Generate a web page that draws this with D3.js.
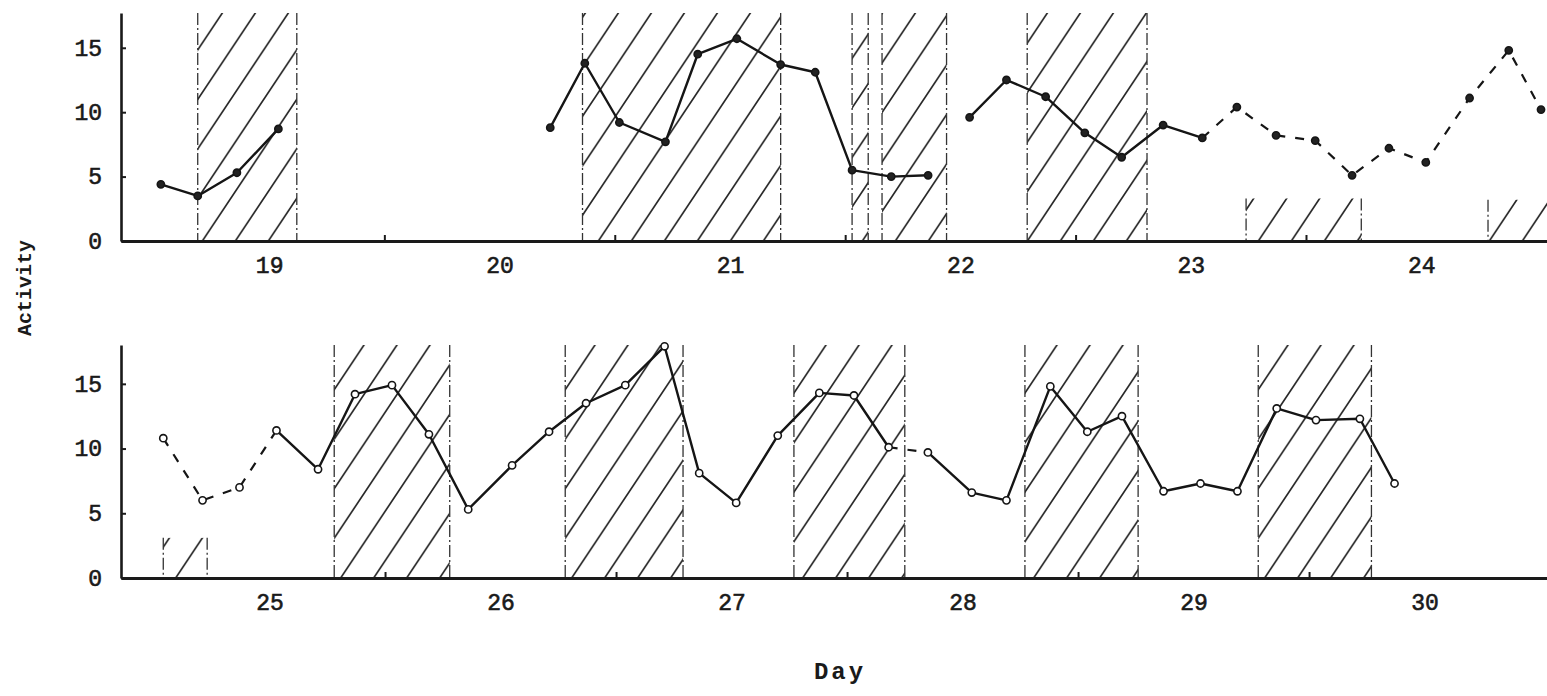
<!DOCTYPE html>
<html>
<head>
<meta charset="utf-8">
<script src="https://cdn.jsdelivr.net/npm/d3@7"></script>
<style>
  body { margin: 0; background: #fff; }
  text { font-family: "Liberation Mono", "DejaVu Sans Mono", monospace; fill: #1a1a1a; }
</style>
</head>
<body>
<svg id="chart"></svg>
<script>
// readings from the two panels (time in days, activity counts)

const topTime = [18.53, 18.69, 18.86, 19.04,
    20.22, 20.37, 20.52, 20.72, 20.86, 21.03, 21.22, 21.37, 21.53, 21.70, 21.86,
    22.04, 22.20, 22.37, 22.54, 22.70, 22.88, 23.05,
    23.20, 23.37, 23.54, 23.70, 23.86, 24.02, 24.21, 24.38, 24.52]
const topActivity = [4.4, 3.5, 5.3, 8.7,
    8.8, 13.8, 9.2, 7.7, 14.5, 15.7, 13.7, 13.1, 5.5, 5.0, 5.1,
    9.6, 12.5, 11.2, 8.4, 6.5, 9.0, 8.0,
    10.4, 8.2, 7.8, 5.1, 7.2, 6.1, 11.1, 14.8, 10.2]
// index ranges of the drawn pieces
const topSolidRuns = [[0, 3], [4, 14], [15, 21]]
const topDashedRuns = [[21, 30]]

const bottomTime = [24.54, 24.71, 24.87, 25.03, 25.21, 25.37, 25.53, 25.69, 25.86,
    26.05, 26.21, 26.37, 26.54, 26.71, 26.86, 27.02, 27.20, 27.38, 27.53, 27.68,
    27.85, 28.04, 28.19, 28.38, 28.54, 28.69, 28.87, 29.03, 29.19, 29.36, 29.53,
    29.72, 29.87]
const bottomActivity = [10.8, 6.0, 7.0, 11.4, 8.4, 14.2, 14.9, 11.1, 5.3,
    8.7, 11.3, 13.5, 14.9, 17.9, 8.1, 5.8, 11.0, 14.3, 14.1, 10.1,
    9.7, 6.6, 6.0, 14.8, 11.3, 12.5, 6.7, 7.3, 6.7, 13.1, 12.2,
    12.3, 7.3]
const bottomSolidRuns = [[3, 19], [20, 32]]
const bottomDashedRuns = [[0, 3], [19, 20]]

// hatched (dark) periods
const topNightStart = [18.69, 20.36, 21.53, 21.66, 22.29, 23.24, 24.29]
const topNightEnd = [19.12, 21.22, 21.60, 21.94, 22.81, 23.74, 24.55]
const topNightTop = [17.7, 17.7, 17.7, 17.7, 17.7, 3.3, 3.2]

const bottomNightStart = [24.54, 25.28, 26.28, 27.27, 28.27, 29.28]
const bottomNightEnd = [24.73, 25.78, 26.79, 27.75, 28.76, 29.77]
const bottomNightTop = [3.1, 18, 18, 18, 18, 18]

const topDays = [19, 20, 21, 22, 23, 24]
const bottomDays = [25, 26, 27, 28, 29, 30]
const activityTicks = [0, 5, 10, 15]

const width = 1547
const height = 696

const svg = d3.select('#chart')
    .attr('width', width)
    .attr('height', height)

// diagonal hatch used for the dark periods
const pat = svg.append('defs').append('pattern')
    .attr('id', 'hatch')
    .attr('patternUnits', 'userSpaceOnUse')
    .attr('width', 33)
    .attr('height', 49.5)
pat.append('path')
    .attr('d', 'M0,49.5 L33,0 M-6,9 L6,-9 M27,58.5 L39,40.5')
    .attr('stroke', '#262626')
    .attr('stroke-width', 1.7)

const panels = [
    { time: topTime, act: topActivity, solid: topSolidRuns, dashed: topDashedRuns,
      start: topNightStart, end: topNightEnd, top: topNightTop, days: topDays,
      xDomain: [18.357, 24.546], yDomain: [0, 17.7], yRange: [241, 13],
      markerFill: '#222' },
    { time: bottomTime, act: bottomActivity, solid: bottomSolidRuns, dashed: bottomDashedRuns,
      start: bottomNightStart, end: bottomNightEnd, top: bottomNightTop, days: bottomDays,
      xDomain: [24.357, 30.53], yDomain: [0, 18], yRange: [578, 345],
      markerFill: '#fff' }
]

panels.forEach(p => {

    const x = d3.scaleLinear().domain(p.xDomain).range([121, 1547])
    const y = d3.scaleLinear().domain(p.yDomain).range(p.yRange)

    const g = svg.append('g')

    // hatched boxes with dash-dot sides
    const nights = p.start.map((s, i) => ({ s: s, e: p.end[i], t: p.top[i] }))

    g.selectAll('.night')
        .data(nights)
        .enter()
        .append('rect')
        .attr('x', d => x(d.s))
        .attr('width', d => x(d.e) - x(d.s))
        .attr('y', d => y(d.t))
        .attr('height', d => y(0) - y(d.t))
        .attr('fill', 'url(#hatch)')

    nights.forEach(d => {
        [d.s, d.e].forEach(v => {
            g.append('line')
                .attr('x1', x(v)).attr('x2', x(v))
                .attr('y1', y(d.t)).attr('y2', y(0))
                .attr('stroke', '#333')
                .attr('stroke-width', 1.3)
                .attr('stroke-dasharray', '12,3,2,3')
        })
    })

    // axes
    const yAxis = g.append('g')
        .attr('transform', 'translate(121,0)')
        .call(d3.axisLeft(y).tickValues(activityTicks).tickSizeInner(-5).tickSizeOuter(0).tickPadding(19))
    yAxis.select('.domain').attr('stroke', '#1a1a1a').attr('stroke-width', 2.6)
    yAxis.selectAll('.tick line').attr('stroke', '#1a1a1a').attr('stroke-width', 2)
    yAxis.selectAll('text')
        .style('font-size', '23px')
        .attr('fill', '#1a1a1a')
        .attr('stroke', '#1a1a1a')
        .attr('stroke-width', 0.6)

    const halfDays = p.days.map(d => d - 0.5).filter(v => v > p.xDomain[0] + 0.3)
    const xAxis = g.append('g')
        .attr('transform', `translate(0,${y(0)})`)
        .call(d3.axisBottom(x).tickValues(p.days).tickFormat(d3.format('d')).tickSize(0).tickPadding(16))
    xAxis.select('.domain').attr('stroke', '#1a1a1a').attr('stroke-width', 3)
    xAxis.selectAll('text')
        .style('font-size', '23px')
        .attr('fill', '#1a1a1a')
        .attr('stroke', '#1a1a1a')
        .attr('stroke-width', 0.6)

    g.append('g')
        .attr('transform', `translate(0,${y(0)})`)
        .call(d3.axisBottom(x).tickValues(halfDays).tickSizeInner(-6).tickSizeOuter(0).tickFormat(''))
        .call(a => a.select('.domain').remove())
        .selectAll('.tick line').attr('stroke', '#1a1a1a').attr('stroke-width', 2)

    // activity record
    const line = d3.line()
        .x(i => x(p.time[i]))
        .y(i => y(p.act[i]))

    const runIdx = r => d3.range(r[0], r[1] + 1)

    g.selectAll('.solid')
        .data(p.solid)
        .enter()
        .append('path')
        .attr('d', r => line(runIdx(r)))
        .attr('fill', 'none')
        .attr('stroke', '#151515')
        .attr('stroke-width', 2.4)
        .attr('stroke-linejoin', 'round')

    g.selectAll('.dashed')
        .data(p.dashed)
        .enter()
        .append('path')
        .attr('d', r => line(runIdx(r)))
        .attr('fill', 'none')
        .attr('stroke', '#151515')
        .attr('stroke-width', 2.2)
        .attr('stroke-dasharray', '9,10')

    g.selectAll('.pt')
        .data(p.time)
        .enter()
        .append('circle')
        .attr('cx', d => x(d))
        .attr('cy', (d, i) => y(p.act[i]))
        .attr('r', 3.6)
        .attr('fill', p.markerFill)
        .attr('stroke', '#151515')
        .attr('stroke-width', 1.6)
})

// axis titles
svg.append('text')
    .attr('transform', 'translate(31,288) rotate(-90)')
    .attr('text-anchor', 'middle')
    .style('font-size', '20px')
    .style('font-weight', 'bold')
    .text('Activity')

svg.append('text')
    .attr('x', 840)
    .attr('y', 679)
    .attr('text-anchor', 'middle')
    .style('font-size', '24px')
    .style('font-weight', 'bold')
    .style('letter-spacing', '3px')
    .text('Day')
</script>
</body>
</html>
